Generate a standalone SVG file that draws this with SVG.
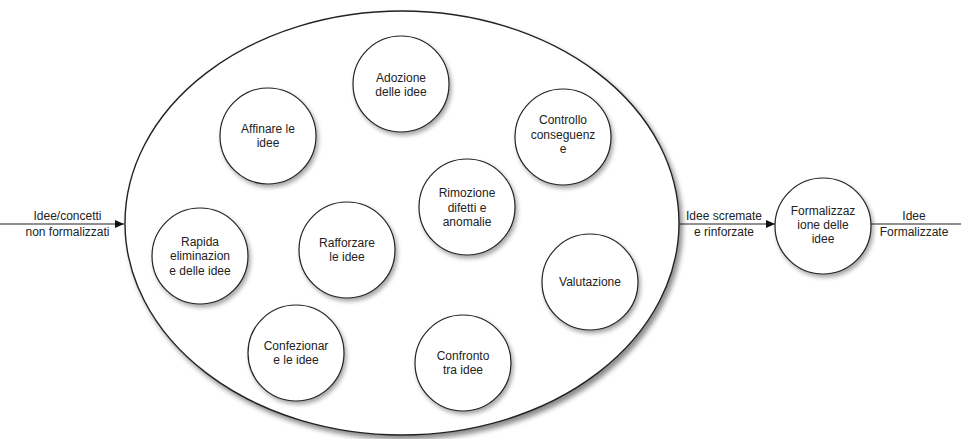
<svg xmlns="http://www.w3.org/2000/svg" width="961" height="439" viewBox="0 0 961 439">
<style>
.n{fill:#fff;stroke:#222;stroke-width:1.2;filter:url(#sh)}
.big{fill:#fff;stroke:#222;stroke-width:1.4;filter:url(#sh2)}
text{font-family:"Liberation Sans",Arial,sans-serif;font-size:12px;fill:#222;text-anchor:middle}
.c{stroke:#222;stroke-width:1.2;fill:none}
</style>
<defs>
<filter id="sh" x="-20%" y="-20%" width="150%" height="150%">
<feDropShadow dx="2" dy="3" stdDeviation="2" flood-color="#000" flood-opacity="0.35"/>
</filter>
<filter id="sh2" x="-10%" y="-10%" width="125%" height="125%">
<feDropShadow dx="3" dy="4" stdDeviation="2.5" flood-color="#000" flood-opacity="0.45"/>
</filter>
<marker id="ah" markerWidth="10" markerHeight="8" refX="9" refY="4" orient="auto" markerUnits="userSpaceOnUse">
<path d="M0,0 L9,4 L0,8 Z" fill="#111"/>
</marker>
</defs>
<g id="connectors">
<line class="c" x1="0" y1="224" x2="124" y2="224" marker-end="url(#ah)"/>
<line class="c" x1="679" y1="224" x2="775" y2="224" marker-end="url(#ah)"/>
<line class="c" x1="871" y1="224" x2="961" y2="224"/>
<text x="67.5" y="220">Idee/concetti</text>
<text x="67.5" y="236">non formalizzati</text>
<text x="724" y="220">Idee scremate</text>
<text x="724" y="236">e rinforzate</text>
<text x="914" y="220">Idee</text>
<text x="914" y="236">Formalizzate</text>
</g>
<g id="processo">
<ellipse class="big" cx="402" cy="223" rx="277" ry="212"/>
</g>
<g id="adozione"><circle class="n" cx="401" cy="84" r="48"/><text x="401" y="82">Adozione</text><text x="401" y="96">delle idee</text></g>
<g id="affinare"><circle class="n" cx="268" cy="136" r="48"/><text x="268" y="133">Affinare le</text><text x="268" y="147">idee</text></g>
<g id="controllo"><circle class="n" cx="563" cy="137" r="48"/><text x="563" y="124">Controllo</text><text x="563" y="139">conseguenz</text><text x="563" y="153">e</text></g>
<g id="rimozione"><circle class="n" cx="467" cy="207" r="48"/><text x="467" y="197">Rimozione</text><text x="467" y="212">difetti e</text><text x="467" y="226">anomalie</text></g>
<g id="rapida"><circle class="n" cx="200" cy="256" r="48"/><text x="200" y="246">Rapida</text><text x="200" y="260">eliminazion</text><text x="200" y="275">e delle idee</text></g>
<g id="rafforzare"><circle class="n" cx="347" cy="250" r="48"/><text x="347" y="247">Rafforzare</text><text x="347" y="261">le idee</text></g>
<g id="valutazione"><circle class="n" cx="590" cy="282" r="48"/><text x="590" y="286">Valutazione</text></g>
<g id="confezionare"><circle class="n" cx="296" cy="353" r="48"/><text x="296" y="350">Confezionar</text><text x="296" y="364">e le idee</text></g>
<g id="confronto"><circle class="n" cx="463" cy="363" r="48"/><text x="463" y="360">Confronto</text><text x="463" y="374">tra idee</text></g>
<g id="formalizzazione"><circle class="n" cx="823" cy="226" r="48"/><text x="823" y="215">Formalizzaz</text><text x="823" y="229">ione delle</text><text x="823" y="243">idee</text></g>
</svg>
